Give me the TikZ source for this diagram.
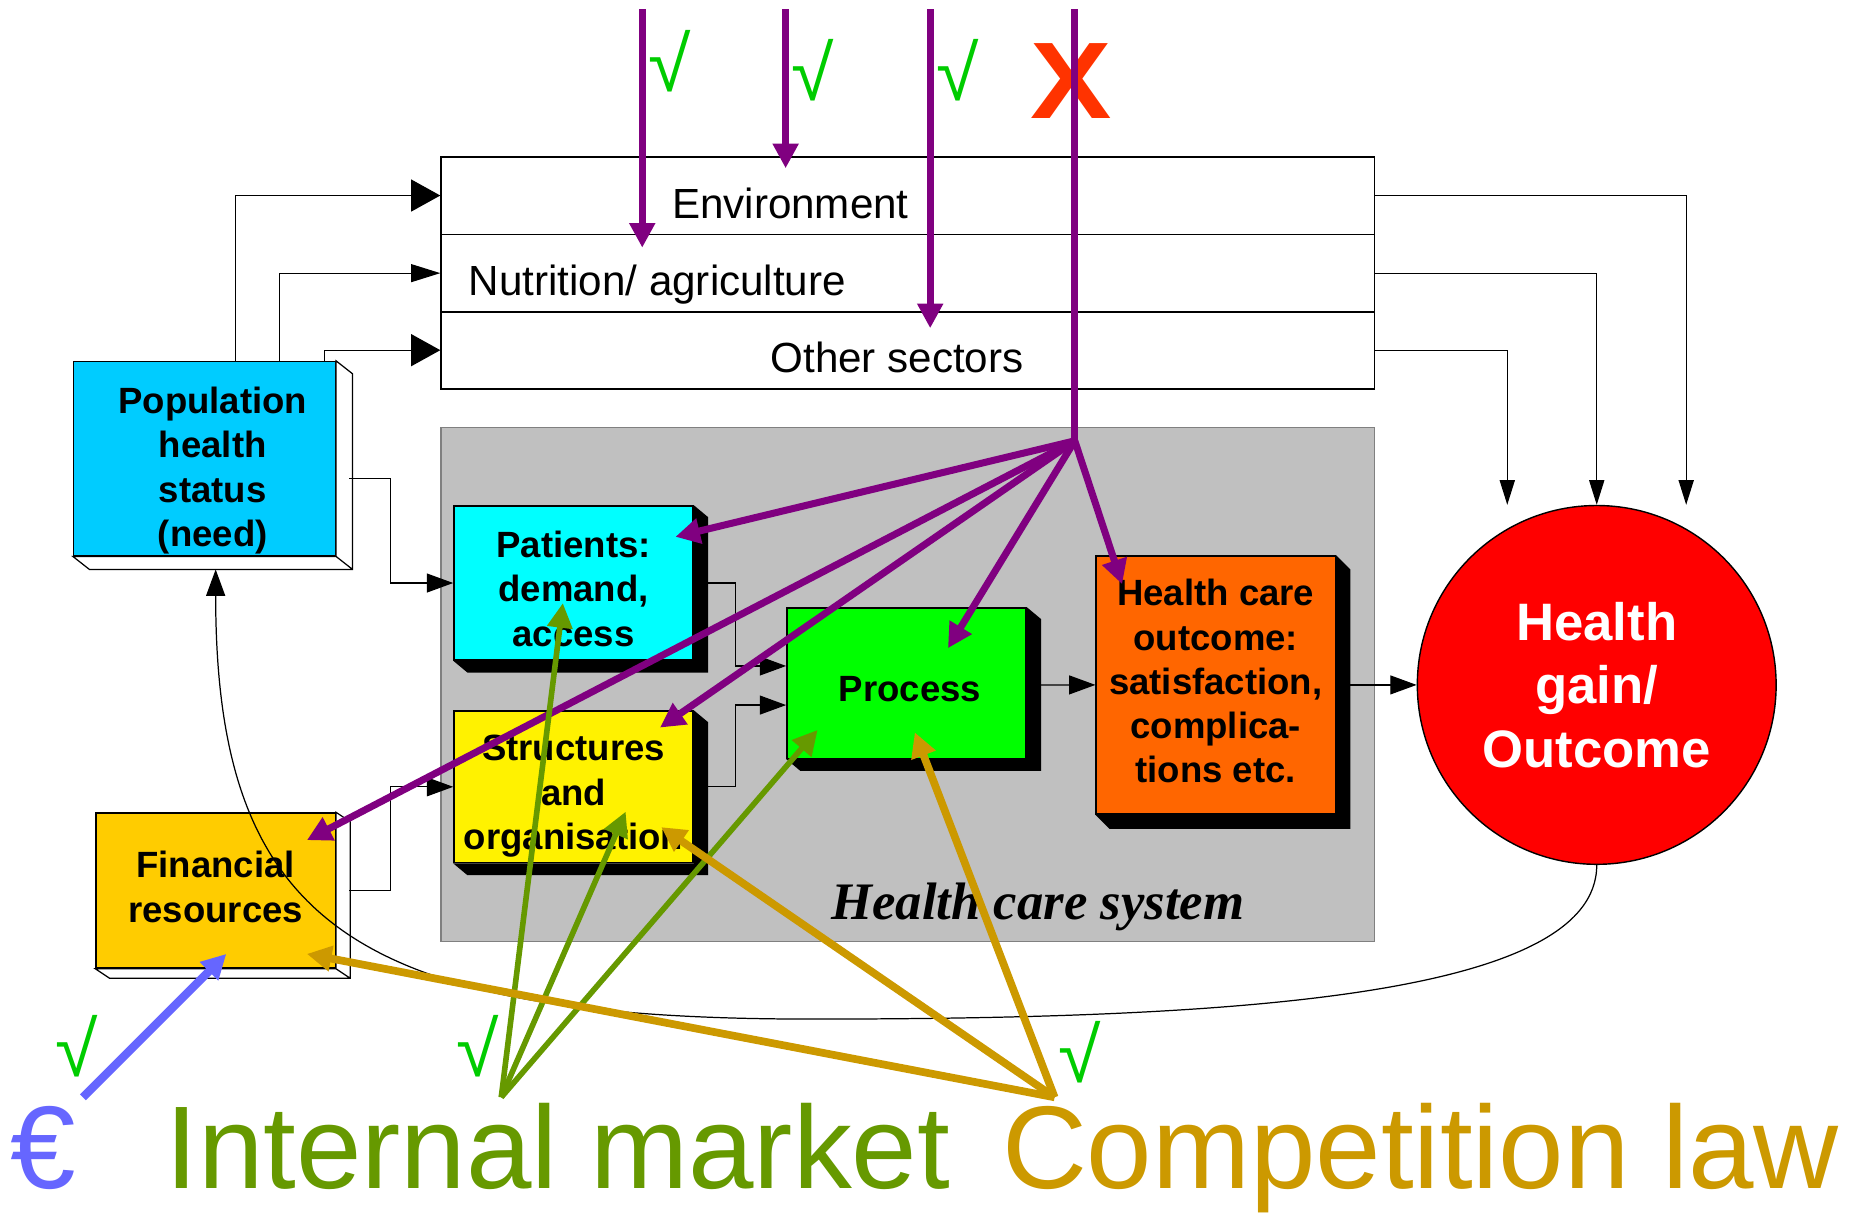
\documentclass[tikz,border=0pt]{standalone}
\usepackage{fontspec}
\setmainfont{Liberation Sans}
\newfontfamily\hcsfont{Liberation Serif}
\usetikzlibrary{arrows.meta}

\definecolor{popblue}{HTML}{00CCFF}
\definecolor{patcyan}{HTML}{00FFFF}
\definecolor{fingold}{HTML}{FFCC00}
\definecolor{procgreen}{HTML}{00FF00}
\definecolor{outorange}{HTML}{FF6600}
\definecolor{hcsgray}{HTML}{C0C0C0}
\definecolor{eupurple}{HTML}{800080}
\definecolor{imgreen}{HTML}{669900}
\definecolor{clgold}{HTML}{CC9900}
\definecolor{eurblue}{HTML}{6666FF}
\definecolor{okgreen}{HTML}{00CC00}
\definecolor{nored}{HTML}{FF3300}

\tikzset{
  box/.style={draw, inner sep=0pt, minimum width=2.394cm},
  boxlab/.style={inner sep=0pt, align=center, font=\bfseries\fontsize{10.4}{12.6}\selectfont},
  sector/.style={draw, minimum width=9.338cm, minimum height=0.774cm, inner sep=0pt},
  sectorlab/.style={inner sep=0pt, font=\fontsize{12}{12}\selectfont},
  wire/.style={draw=black, line width=0.35pt},
  bigtip/.style={-{Triangle[length=8.3pt,width=9.1pt]}},
  smalltip/.style={-{Triangle[length=7.5pt,width=5.4pt]}},
  downtip/.style={-{Triangle[length=7pt,width=4.3pt]}},
  policy/.style={line width=2pt, -{Triangle[length=7pt,width=7pt]}},
  tick/.style={text=okgreen, inner sep=0pt, font=\fontsize{22}{22}\selectfont},
  law/.style={inner sep=0pt, anchor=base west, font=\fontsize{33.5}{33.5}\selectfont},
}

\begin{document}
\begin{tikzpicture}[x=0.01185cm, y=-0.01185cm]
  \useasboundingbox (0,0) rectangle (1568,1025);

  % health care system
  \node[fill=hcsgray, draw=gray, line width=0.3pt, minimum width=9.338cm,
    minimum height=5.143cm] (hcs) at (766,578) {};
  \node[anchor=base west, inner sep=0pt,
    font=\hcsfont\bfseries\itshape\fontsize{15}{15}\selectfont] (hcslab) at (701,776) {Health care system};

  % other sectors
  \node[sector] (env) at (766,165) {};
  \node[sector] (nut) at (766,230.5) {};
  \node[sector] (oth) at (766,295.5) {};
  \node[sectorlab, anchor=base] (envlab) at (667,184) {Environment};
  \node[sectorlab, anchor=base west] (nutlab) at (395,249) {Nutrition/ agriculture};
  \node[sectorlab, anchor=base] (othlab) at (757,314) {Other sectors};

  % boxes
  \node[box, fill=popblue, minimum width=2.619cm, minimum height=1.943cm,
    label={[boxlab, shift={(7,10)}]center:{Population\\health\\status\\(need)}}] (pop) at (172.5,387) {};
  \node[box, fill=fingold, minimum height=1.552cm,
    label={[boxlab, shift={(0,-3)}]center:{Financial\\resources}}] (fin) at (182,751.5) {};
  \node[box, fill=patcyan, minimum height=1.541cm,
    label={[boxlab, shift={(0,5)}]center:{Patients:\\demand,\\access}}] (pat) at (484,492) {};
  \node[box, fill=yellow, minimum height=1.517cm,
    label={[boxlab, shift={(0,8)}]center:{Structures\\and\\organisation}}] (str) at (484,664) {};
  \node[box, fill=procgreen, minimum height=1.505cm,
    label={[boxlab, shift={(3,5)}]center:{Process}}] (proc) at (765,576.5) {};
  \node[box, fill=outorange, minimum height=2.583cm,
    label={[boxlab, shift={(0,-3)}]center:{Health care\\outcome:\\satisfaction,\\complica-\\tions etc.}}] (out) at (1026,578) {};
  \node[circle, draw, fill=red, text=white, minimum size=3.59cm, inner sep=0pt, align=center,
    font=\bfseries\fontsize{15}{18.1}\selectfont] (gain) at (1347.5,578) {Health\\gain/\\Outcome};

  % 3d edges
  \foreach \b/\dx/\dy in {pat/12/10, str/12/10, proc/12/10, out/12/12}
    \fill (\b.north east) -- ++(\dx,\dy) -- ([shift={(\dx,\dy)}]\b.south east)
      -- ([shift={(\dx,\dy)}]\b.south west) -- (\b.south west) -- (\b.south east) -- cycle;
  \foreach \b/\dx/\dy in {pop/14/11, fin/12/8}
    \draw[wire, fill=white] (\b.north east) -- ++(\dx,\dy) -- ([shift={(\dx,\dy)}]\b.south east)
      -- ([shift={(\dx,\dy)}]\b.south west) -- (\b.south west) -- (\b.south east) -- cycle
      (\b.south east) -- ++(\dx,\dy);

  % flows
  \draw[wire, bigtip] ([xshift=0.314cm]pop.north) |- (env.west);
  \draw[wire, -{Triangle[length=8.3pt,width=5.1pt]}] ([xshift=0.752cm]pop.north) |- (nut.west);
  \draw[wire, bigtip] ([xshift=1.203cm]pop.north) |- (oth.west);
  \draw[wire, smalltip] ([shift={(11,17)}]pop.east) -- ++(35,0) |- (pat.west);
  \draw[wire, smalltip] ([shift={(11,0)}]fin.east) -- ++(35,0) |- (str.west);
  \draw[wire, smalltip] ([shift={(12,0)}]pat.east) -- ++(23,0) |- ([shift={(0,-14.5)}]proc.west);
  \draw[wire, smalltip] ([shift={(12,0)}]str.east) -- ++(23,0) |- ([shift={(0,18.5)}]proc.west);
  \draw[wire, smalltip] ([shift={(12,1.5)}]proc.east) -- (out.west);
  \draw[wire, smalltip] ([shift={(12,0)}]out.east) -- (gain.west);
  \draw[wire, downtip] (env.east) -| ([xshift=0.895cm]gain.north);
  \draw[wire, downtip] (nut.east) -| (gain.north);
  \draw[wire, downtip] (oth.east) -| ([xshift=-0.895cm]gain.north);

  % feedback
  \coordinate (loop) at (685,860);
  \draw[wire, smalltip] (gain.south) .. controls +(0,110) and (1050,860) .. (loop)
    .. controls (300,860) and (182,780) .. ([shift={(9.5,11)}]pop.south);

  \node[text=nored, inner sep=0pt, font=\bfseries\fontsize{31}{31}\selectfont] (no) at (904,68) {\scalebox{1.12}[1]{X}};

  % EU
  \coordinate (eu1) at (542,8);
  \coordinate (eu2) at (663,8);
  \coordinate (eu3) at (785,8);
  \coordinate (eu4) at (907,8);
  \coordinate (hub) at (907,372);
  \draw[policy, eupurple] (eu1) -- ++(0,201);
  \draw[policy, eupurple] (eu2) -- ++(0,134);
  \draw[policy, eupurple] (eu3) -- ++(0,269);
  \draw[eupurple, line width=2pt] (eu4) -- (hub);
  \foreach \b/\sx/\sy in {pat/86/-39, fin/77/-42.5, str/73/-50, proc/35/-29.5, out/-79/-85}
    \draw[policy, eupurple] (hub) -- ([shift={(\sx,\sy)}]\b.center);

  \coordinate (im) at (423,926);
  \foreach \b/\sx/\sy in {pat/-9/17, str/44/21, proc/-75/39.5}
    \draw[policy, imgreen, line width=1.6pt] (im) -- ([shift={(\sx,\sy)}]\b.center);
  \coordinate (cl) at (890,926);
  \foreach \b/\sx/\sy in {fin/77/53.5, str/74/34, proc/7/41.5}
    \draw[policy, clgold, line width=2.2pt] (cl) -- ([shift={(\sx,\sy)}]\b.center);
  \coordinate (eur) at (70,926);
  \draw[policy, eurblue, line width=2.4pt] (eur) -- ([shift={(9,53.5)}]fin.center);

  \node[law, text=eurblue] (eurlab) at (8,1003) {€};
  \node[law, text=imgreen] (imlab) at (139,1003) {Internal market};
  \node[law, text=clgold] (cllab) at (845,1003) {Competition law};

  \node[tick] (ok1) at (565,52) {√};
  \node[tick] (ok2) at (686,59) {√};
  \node[tick] (ok3) at (808,59) {√};
  \node[tick] (ok4) at (65,883) {√};
  \node[tick] (ok5) at (403,883) {√};
  \node[tick] (ok6) at (911,888) {√};
\end{tikzpicture}
\end{document}
